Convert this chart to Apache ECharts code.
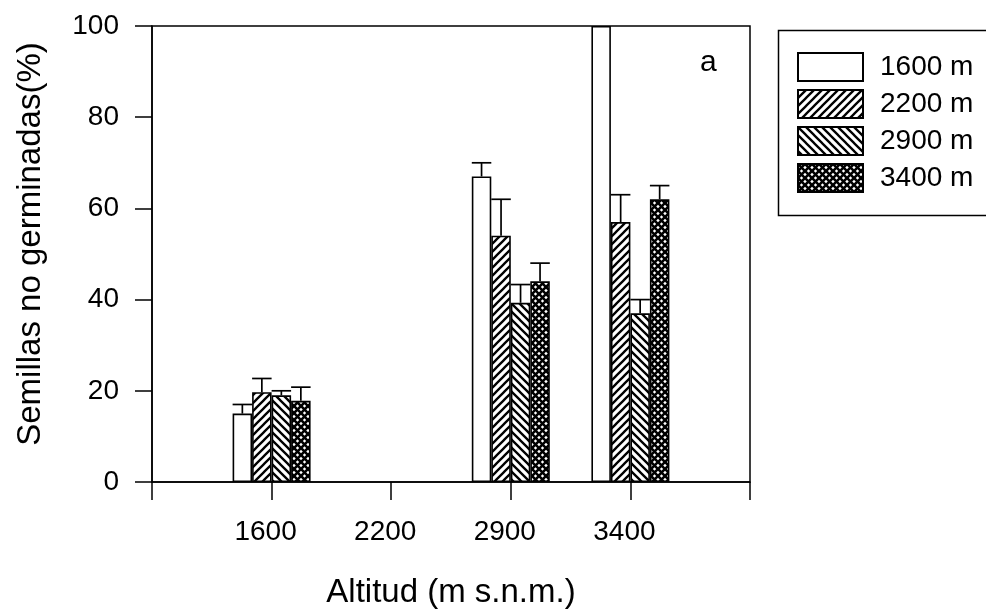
<!DOCTYPE html>
<html><head><meta charset="utf-8">
<script src="https://cdn.jsdelivr.net/npm/echarts@6/dist/echarts.min.js"></script>
<style>html,body{margin:0;padding:0;background:#fff}#c{width:986px;height:614px}</style>
</head><body><div id="c"></div>
<script>
// ---- data ----
const altitudes = ['1600', '2200', '2900', '3400'];
const seriesNames = ['1600 m', '2200 m', '2900 m', '3400 m'];
const v1600 = [15, null, 67, 100];
const v2200 = [19.7, null, 54, 57];
const v2900 = [19, null, 39.3, 37];
const v3400 = [17.8, null, 44, 62];
const e1600 = [2, null, 3, null];
const e2200 = [3, null, 8, 6];
const e2900 = [1, null, 4, 3];
const e3400 = [3, null, 4, 3];
const yMin = 0, yMax = 100, yStep = 20;

const FONT = '"Liberation Sans", Arial, sans-serif';
const values = [v1600, v2200, v2900, v3400];
const errors = [e1600, e2200, e2900, e3400];
const barW = 19.5;

function makePattern(kind) {
  const s = kind === 'cross' ? 7 : 8;
  const c = document.createElement('canvas');
  c.width = s; c.height = s;
  const g = c.getContext('2d');
  g.fillStyle = '#fff'; g.fillRect(0, 0, s, s);
  g.strokeStyle = '#000';
  function fwd() {
    g.beginPath();
    g.moveTo(-1, s + 1); g.lineTo(s + 1, -1);
    g.moveTo(-3, 3); g.lineTo(3, -3);
    g.moveTo(s - 3, s + 3); g.lineTo(s + 3, s - 3);
    g.stroke();
  }
  function back() {
    g.beginPath();
    g.moveTo(-1, -1); g.lineTo(s + 1, s + 1);
    g.moveTo(s - 3, -3); g.lineTo(s + 3, 3);
    g.moveTo(-3, s - 3); g.lineTo(3, s + 3);
    g.stroke();
  }
  if (kind === 'fwd') { g.lineWidth = 2.3; fwd(); }
  else if (kind === 'back') { g.lineWidth = 2.3; back(); }
  else if (kind === 'cross') { g.lineWidth = 2.6; fwd(); back(); }
  return c;
}
const fills = [
  '#ffffff',
  { image: makePattern('fwd'), repeat: 'repeat' },
  { image: makePattern('back'), repeat: 'repeat' },
  { image: makePattern('cross'), repeat: 'repeat' }
];

const catData = [''].concat(altitudes, ['']);

const series = [];
values.forEach((vals, k) => {
  series.push({
    name: seriesNames[k],
    type: 'bar',
    barWidth: barW,
    barGap: '0%',
    clip: true,
    data: [null].concat(vals, [null]),
    itemStyle: { color: fills[k], borderColor: '#000', borderWidth: 1.6 },
    emphasis: { disabled: true },
    z: 2
  });
});
values.forEach((vals, k) => {
  const data = [];
  vals.forEach((v, i) => {
    const e = errors[k][i];
    if (v != null && e != null) data.push([i + 1, v, e]);
  });
  series.push({
    name: 'err' + k,
    type: 'custom',
    data: data,
    encode: { x: 0, y: 1 },
    z: 3,
    silent: true,
    renderItem: function (params, api) {
      const ci = api.value(0), v = api.value(1), e = api.value(2);
      const p0 = api.coord([ci, v]);
      const p1 = api.coord([ci, v + e]);
      const x = p0[0] + (k - 1.5) * barW;
      const hw = barW / 2;
      const st = { stroke: '#000', lineWidth: 1.7 };
      return {
        type: 'group',
        children: [
          { type: 'line', shape: { x1: x, y1: p0[1], x2: x, y2: p1[1] }, style: st },
          { type: 'line', shape: { x1: x - hw, y1: p1[1], x2: x + hw, y2: p1[1] }, style: st }
        ]
      };
    }
  });
});

const chart = echarts.init(document.getElementById('c'), null, { renderer: 'canvas' });
chart.setOption({
  backgroundColor: '#fff',
  animation: false,
  textStyle: { fontFamily: FONT, color: '#000' },
  grid: { left: 152, top: 26, right: 236, bottom: 132, show: true, borderColor: '#000', borderWidth: 1.5, backgroundColor: 'transparent' },
  legend: {
    data: seriesNames,
    orient: 'vertical',
    left: 797, top: 52,
    itemWidth: 65, itemHeight: 28, itemGap: 7,
    icon: 'rect',
    padding: 0,
    selectedMode: false,
    textStyle: { fontSize: 28, lineHeight: 28, fontFamily: FONT, color: '#000', padding: [0, 0, 0, 12] }
  },
  xAxis: {
    type: 'category',
    data: catData,
    boundaryGap: false,
    axisLine: { lineStyle: { color: '#000', width: 1.5 } },
    axisTick: { show: true, length: 18, interval: 0, lineStyle: { color: '#000', width: 1.5 } },
    axisLabel: { interval: 0, fontSize: 28, fontFamily: FONT, color: '#000', margin: 36, padding: [0, 12, 0, 0] },
    splitLine: { show: false },
    name: 'Altitud (m s.n.m.)',
    nameLocation: 'middle',
    nameGap: 94,
    nameTextStyle: { fontSize: 33, fontFamily: FONT, color: '#000' }
  },
  yAxis: {
    type: 'value',
    min: yMin, max: yMax, interval: yStep,
    axisLine: { show: true, lineStyle: { color: '#000', width: 1.5 } },
    axisTick: { show: true, length: 17, lineStyle: { color: '#000', width: 1.5 } },
    axisLabel: { fontSize: 28, fontFamily: FONT, color: '#000', margin: 33 },
    splitLine: { show: false },
    name: 'Semillas no germinadas(%)',
    nameLocation: 'middle',
    nameGap: 105,
    nameTextStyle: { fontSize: 33, fontFamily: FONT, color: '#000', padding: [0, 0, 0, 20] }
  },
  graphic: [
    { type: 'rect', left: 776, top: 28, shape: { width: 240, height: 185 }, style: { fill: 'none', stroke: '#000', lineWidth: 1.5 }, z: 1 },
    { type: 'text', left: 700, top: 48, style: { text: 'a', font: '30px ' + FONT, fill: '#000' } }
  ],
  series: series
});
</script></body></html>
